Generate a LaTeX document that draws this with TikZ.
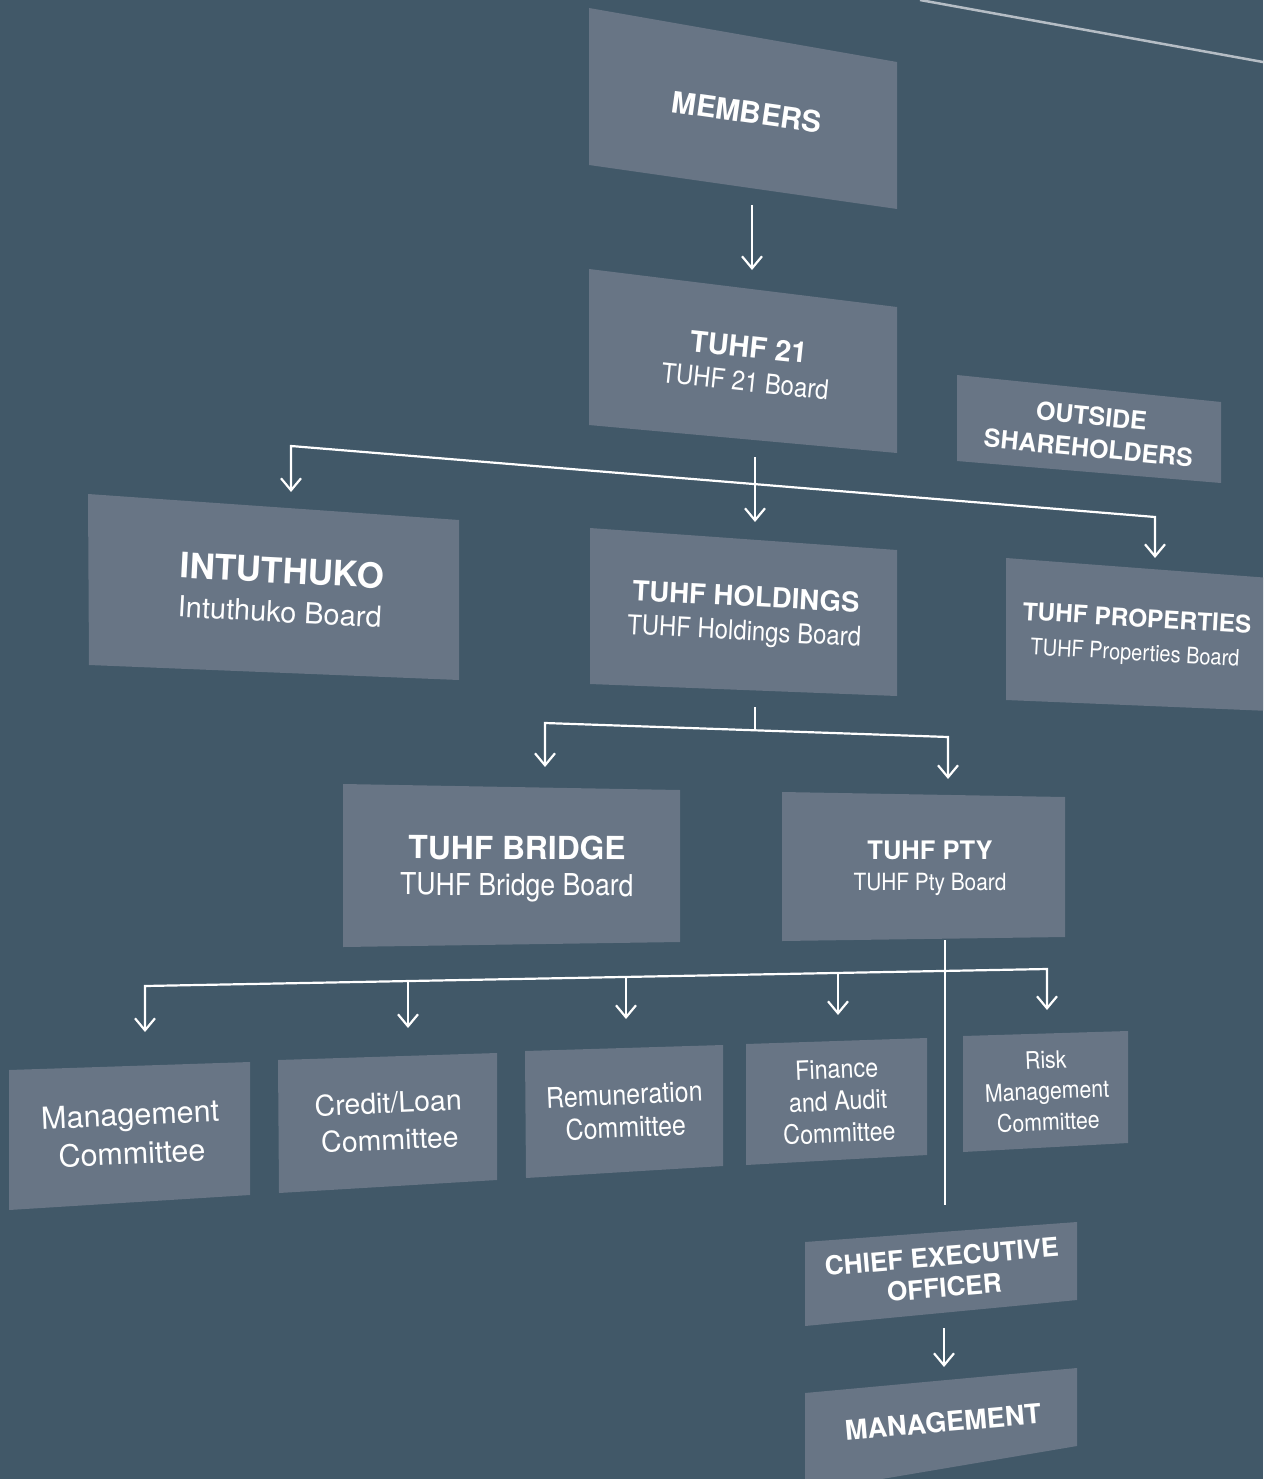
\documentclass[tikz,border=0pt]{standalone}
\usepackage{fontspec}
\setmainfont{TeX Gyre Heros}
\newfontfamily\cond[FakeStretch=0.88]{TeX Gyre Heros}
\usetikzlibrary{arrows.meta}

\definecolor{bgslate}{HTML}{415868}
\definecolor{boxgrey}{HTML}{687585}
\definecolor{rulegrey}{HTML}{B5BDC5}

\newcommand{\hd}[2]{{\normalfont\bfseries\fontsize{#1}{#1}\selectfont #2}}

\begin{document}
\begin{tikzpicture}
    [x=1pt,y=-1pt,>={Straight Barb[length=12pt,width=20pt]},
        line width=2pt,
        panel/.style={fill=boxgrey},
        name node/.style={text=white,align=center,inner sep=0pt},
        link/.style={draw=white,line width=2.2pt}]

    \path[use as bounding box,clip] (0,0) rectangle (1263,1479);
    \fill[bgslate] (0,0) rectangle (1263,1479);
    \draw[rulegrey,line width=2.5pt] (920,0) -- (1285,66);

    % panels
    \fill[panel] (589,8) -- (897,62) -- (897,209) -- (589,165) -- cycle;
    \fill[panel] (589,269) -- (897,307) -- (897,453) -- (589,425) -- cycle;
    \fill[panel] (957,375) -- (1221,402) -- (1221,483) -- (957,461) -- cycle;
    \fill[panel] (88,494) -- (459,520) -- (459,680) -- (89,665) -- cycle;
    \fill[panel] (590,528) -- (897,550) -- (897,696) -- (590,684) -- cycle;
    \fill[panel] (1006,558) -- (1270,578) -- (1270,711) -- (1006,700) -- cycle;
    \fill[panel] (343,784) -- (680,790) -- (680,942) -- (343,947) -- cycle;
    \fill[panel] (782,792) -- (1065,797) -- (1065,937) -- (782,941) -- cycle;
    \fill[panel] (9,1070) -- (250,1062) -- (250,1195) -- (9,1210) -- cycle;
    \fill[panel] (278,1060) -- (497,1053) -- (497,1180) -- (279,1193) -- cycle;
    \fill[panel] (525,1051) -- (723,1045) -- (723,1166) -- (526,1178) -- cycle;
    \fill[panel] (746,1044) -- (927,1038) -- (927,1155) -- (746,1165) -- cycle;
    \fill[panel] (963,1036) -- (1128,1031) -- (1128,1143) -- (963,1152) -- cycle;
    \fill[panel] (805,1242) -- (1077,1222) -- (1077,1300) -- (805,1326) -- cycle;
    \fill[panel] (805,1393) -- (1077,1368) -- (1077,1446) -- (805,1492) -- cycle;

    % names
    \node[name node,rotate=-8] (members) at (747,112) {\hd{29.6}{MEMBERS}};
    \node[name node,rotate=-6,font=\cond\fontsize{27.3}{34}\selectfont] (tuhf21) at (747,364)
        {\hd{29}{TUHF 21}\\TUHF 21 Board};
    \node[name node,rotate=-5.5,font=\bfseries\fontsize{25}{32}\selectfont] (outside) at (1090,432)
        {OUTSIDE\\SHAREHOLDERS};
    \node[name node,rotate=-3,font=\fontsize{29}{39}\selectfont] (intuthuko) at (281,590)
        {\hd{35}{INTUTHUKO}\\Intuthuko Board};
    \node[name node,rotate=-3,font=\cond\fontsize{27.2}{34}\selectfont] (holdings) at (745,616)
        {\hd{27.6}{TUHF HOLDINGS}\\TUHF Holdings Board};
    \node[name node,rotate=-3.3,font=\cond\fontsize{22.7}{34}\selectfont] (properties) at (1136,637)
        {\hd{24.4}{TUHF PROPERTIES}\\TUHF Properties Board};
    \node[name node,rotate=-0.3,font=\cond\fontsize{30.2}{36}\selectfont] (bridge) at (517,869)
        {\hd{31.8}{TUHF BRIDGE}\\TUHF Bridge Board};
    \node[name node,font=\cond\fontsize{23.7}{31}\selectfont] (pty) at (930,868)
        {\hd{25.5}{TUHF PTY}\\TUHF Pty Board};
    \node[name node,rotate=2.7,font=\fontsize{30.5}{39}\selectfont] (mgmtcom) at (131,1134)
        {Management\\Committee};
    \node[name node,rotate=2.6,font=\fontsize{28.5}{37}\selectfont] (creditcom) at (389,1121)
        {Credit/Loan\\Committee};
    \node[name node,rotate=2.6,font=\cond\fontsize{28.4}{33}\selectfont] (remcom) at (625,1111)
        {Remuneration\\Committee};
    \node[name node,rotate=2.5,font=\cond\fontsize{26.5}{32}\selectfont] (fincom) at (838,1101)
        {Finance\\and Audit\\Committee};
    \node[name node,rotate=2.4,font=\cond\fontsize{24.2}{31}\selectfont] (riskcom) at (1047,1091)
        {Risk\\Management\\Committee};
    \node[name node,rotate=4.8,font=\bfseries\fontsize{26.2}{31}\selectfont] (ceo) at (943,1272)
        {CHIEF EXECUTIVE\\OFFICER};
    \node[name node,rotate=5] (management) at (943,1422) {\hd{27.2}{MANAGEMENT}};

    % connector ends
    \coordinate (members-s) at (752,205);
    \coordinate (tuhf21-n) at (752,270);
    \coordinate (tuhf21-s) at (755,457);
    \coordinate (holdings-n) at (755,522);
    \coordinate (split1-w) at (291,446);
    \coordinate (split1-e) at (1155,517);
    \coordinate (intuthuko-n) at (291,492);
    \coordinate (properties-n) at (1155,558);
    \coordinate (holdings-s) at (755,707);
    \coordinate (split2-m) at (755,730);
    \coordinate (split2-w) at (545,723);
    \coordinate (split2-e) at (948,737);
    \coordinate (bridge-n) at (545,767);
    \coordinate (pty-n) at (948,779);
    \coordinate (pty-s) at (945,940);
    \coordinate (ceo-n) at (945,1205);
    \coordinate (split3-w) at (145,986);
    \coordinate (split3-b) at (408,981);
    \coordinate (split3-c) at (626,977);
    \coordinate (split3-d) at (838,973);
    \coordinate (split3-e) at (1047,969);
    \coordinate (mgmtcom-n) at (145,1032);
    \coordinate (creditcom-n) at (408,1028);
    \coordinate (remcom-n) at (626,1019);
    \coordinate (fincom-n) at (838,1015);
    \coordinate (riskcom-n) at (1047,1010);
    \coordinate (ceo-s) at (944,1328);
    \coordinate (management-n) at (944,1367);

    % connectors
    \draw[link,->] (members-s) -- (tuhf21-n);
    \draw[link,->] (tuhf21-s) -- (holdings-n);
    \draw[link,<->] (intuthuko-n) -- (split1-w) -- (split1-e) -- (properties-n);
    \draw[link] (holdings-s) -- (split2-m);
    \draw[link,<->] (bridge-n) -- (split2-w) -- (split2-e) -- (pty-n);
    \draw[link] (pty-s) -- (ceo-n);
    \draw[link,<->] (mgmtcom-n) -- (split3-w) -- (split3-e) -- (riskcom-n);
    \draw[link,->] (split3-b) -- (creditcom-n);
    \draw[link,->] (split3-c) -- (remcom-n);
    \draw[link,->] (split3-d) -- (fincom-n);
    \draw[link,->] (ceo-s) -- (management-n);
\end{tikzpicture}
\end{document}
